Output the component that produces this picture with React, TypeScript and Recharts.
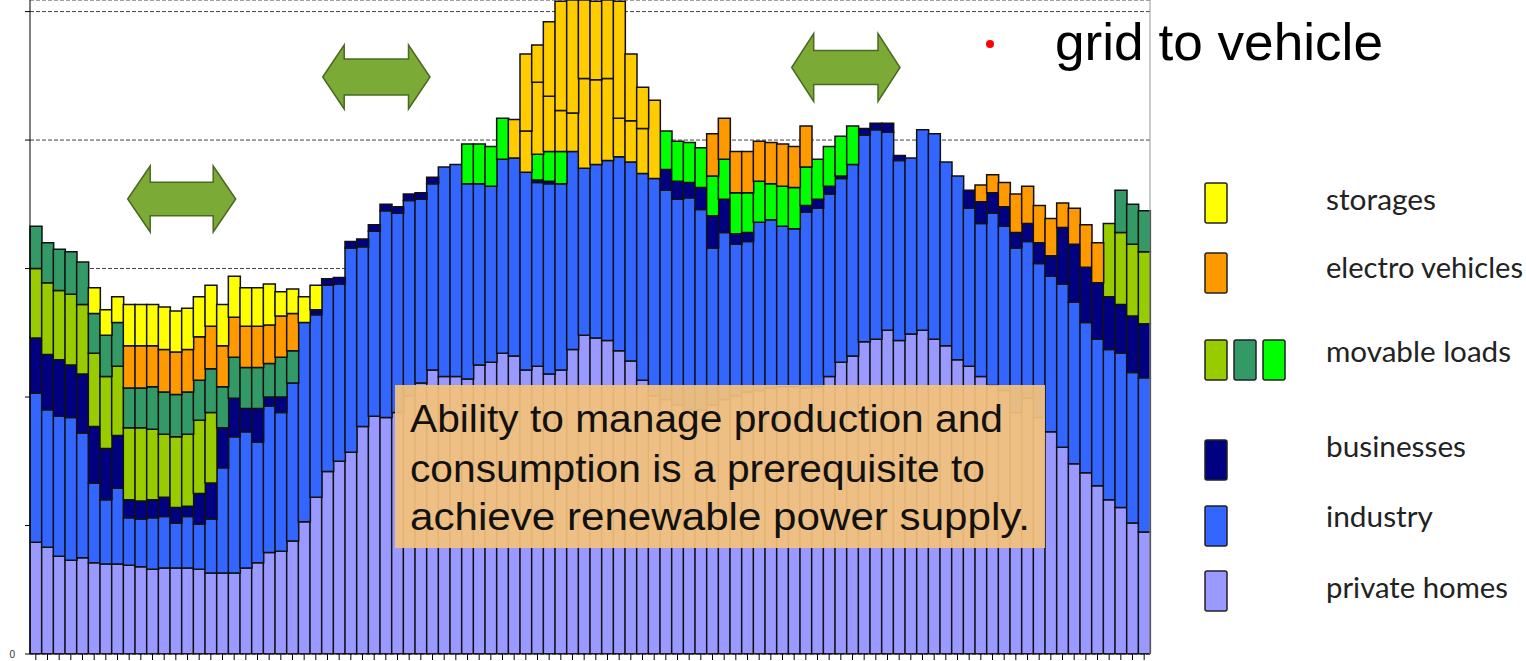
import { BarChart, Bar, XAxis, YAxis, CartesianGrid } from "recharts";

// quarter-hour slots of one day
const slots = Array.from(
  { length: 96 },
  (_, i) => `${String(Math.floor(i / 4)).padStart(2, "0")}:${String((i % 4) * 15).padStart(2, "0")}`
);

const privateHomes = [
  870, 830, 760, 730, 750, 710, 700, 700, 690, 680,
  660, 670, 670, 670, 660, 630, 630, 630, 670, 710,
  790, 800, 880, 1030, 1220, 1420, 1500, 1570, 1770, 1850,
  1840, 1880, 2010, 2110, 2210, 2160, 2160, 2140, 2250, 2270,
  2340, 2320, 2210, 2240, 2180, 2210, 2370, 2480, 2460, 2440,
  2360, 2280, 2130, 2010, 1980, 1940, 1900, 1900, 1940, 1980,
  2010, 2040, 2050, 2070, 2080, 2080, 2070, 2080, 2160, 2270,
  2320, 2430, 2450, 2520, 2440, 2490, 2520, 2450, 2400, 2290,
  2240, 2160, 2090, 2050, 1880, 1990, 1840, 1730, 1610, 1480,
  1410, 1310, 1200, 1140, 1020, 950,
];

const industry = [
  1160, 1070, 1090, 1110, 970, 620, 500, 590, 370, 370,
  400, 400, 350, 400, 350, 420, 820, 1060, 1060, 940,
  1140, 1080, 1230, 1550, 1420, 1450, 1380, 1590, 1400, 1440,
  1610, 1550, 1520, 1430, 1450, 1630, 1650, 1520, 1410, 1370,
  1510, 1540, 1540, 1430, 1480, 1450, 1540, 1300, 1350, 1400,
  1510, 1550, 1610, 1690, 1630, 1600, 1650, 1560, 1220, 1300,
  1180, 1170, 1310, 1310, 1250, 1230, 1370, 1390, 1420, 1430,
  1490, 1610, 1630, 1540, 1400, 1370, 1560, 1600, 1430, 1430,
  1230, 1190, 1340, 1280, 1280, 1220, 1200, 1210, 1270, 1260,
  1170, 1140, 1170, 1200, 1170, 1200,
];

const businesses = [
  430, 430, 440, 410, 460, 440, 400, 410, 140, 140,
  140, 150, 120, 80, 240, 280, 310, 300, 180, 260,
  70, 120, 0, 0, 40, 50, 50, 50, 60, 50,
  50, 50, 50, 50, 50, 0, 0, 0, 0, 0,
  0, 0, 0, 20, 20, 0, 0, 0, 0, 0,
  0, 0, 0, 0, 160, 140, 120, 170, 250, 260,
  80, 70, 0, 0, 0, 0, 50, 70, 60, 20,
  0, 50, 50, 70, 40, 0, 0, 0, 0, 0,
  140, 170, 160, 150, 120, 140, 160, 160, 440, 450,
  430, 440, 410, 380, 440, 420,
];

const movableLoadsA = [
  540, 560, 540, 550, 540, 570, 560, 540, 560, 570,
  550, 490, 550, 560, 570, 550, 0, 0, 0, 0,
  0, 0, 0, 0, 0, 0, 0, 0, 0, 0,
  0, 0, 0, 0, 0, 0, 0, 0, 0, 0,
  0, 0, 0, 0, 0, 0, 0, 0, 0, 0,
  0, 0, 0, 0, 0, 0, 0, 0, 0, 0,
  0, 0, 0, 0, 0, 0, 0, 0, 0, 0,
  0, 0, 0, 0, 0, 0, 0, 0, 0, 0,
  0, 0, 0, 0, 0, 0, 0, 0, 0, 0,
  0, 0, 570, 560, 560, 560,
];

const movableLoadsB = [
  330, 310, 320, 330, 330, 310, 320, 340, 310, 310,
  330, 330, 330, 330, 310, 340, 320, 320, 320, 320,
  260, 310, 250, 0, 0, 0, 0, 0, 0, 0,
  0, 0, 0, 0, 0, 0, 0, 0, 0, 0,
  0, 0, 0, 0, 0, 0, 0, 0, 0, 0,
  0, 0, 0, 0, 0, 0, 0, 0, 0, 0,
  0, 0, 0, 0, 0, 0, 0, 0, 0, 0,
  0, 0, 0, 0, 0, 0, 0, 0, 0, 0,
  0, 0, 0, 0, 0, 0, 0, 0, 0, 0,
  0, 0, 0, 330, 310, 320,
];

const movableLoadsC = [
  0, 0, 0, 0, 0, 0, 0, 0, 0, 0,
  0, 0, 0, 0, 0, 0, 0, 0, 0, 0,
  0, 0, 0, 0, 0, 0, 0, 0, 0, 0,
  0, 0, 0, 0, 0, 0, 0, 310, 310, 310,
  320, 0, 0, 200, 230, 250, 0, 0, 0, 0,
  0, 0, 0, 0, 300, 310, 310, 310, 310, 310,
  320, 310, 320, 280, 310, 320, 300, 310, 310, 310,
  300, 0, 0, 0, 0, 0, 0, 0, 0, 0,
  0, 0, 0, 0, 0, 0, 0, 0, 0, 0,
  0, 0, 0, 0, 0, 0,
];

const electroVehicles = [
  0, 0, 0, 0, 0, 0, 0, 0, 330, 330,
  320, 330, 330, 330, 340, 330, 320, 310, 320, 320,
  300, 320, 290, 0, 0, 0, 0, 0, 0, 0,
  0, 0, 0, 0, 0, 0, 0, 0, 0, 0,
  0, 0, 0, 0, 0, 0, 0, 0, 0, 0,
  0, 0, 0, 0, 0, 0, 0, 0, 330, 320,
  320, 320, 310, 320, 330, 320, 320, 0, 0, 0,
  0, 0, 0, 0, 0, 0, 0, 0, 0, 0,
  0, 130, 140, 190, 300, 290, 290, 290, 190, 280,
  330, 310, 0, 0, 0, 0,
];

const storages = [
  0, 0, 0, 0, 0, 200, 200, 200, 320, 320,
  320, 330, 320, 320, 310, 320, 320, 320, 300, 300,
  320, 190, 190, 200, 190, 0, 0, 0, 0, 0,
  0, 0, 0, 0, 0, 0, 0, 0, 0, 0,
  0, 0, 0, 0, 0, 0, 0, 0, 0, 0,
  0, 0, 0, 0, 0, 0, 0, 0, 0, 0,
  0, 0, 0, 0, 0, 0, 0, 0, 0, 0,
  0, 0, 0, 0, 0, 0, 0, 0, 0, 0,
  0, 0, 0, 0, 0, 0, 0, 0, 0, 0,
  0, 0, 0, 0, 0, 0,
];

// midday storage discharge, drawn as two stacked blocks
const storagesPeakLow = [
  0, 0, 0, 0, 0, 0, 0, 0, 0, 0,
  0, 0, 0, 0, 0, 0, 0, 0, 0, 0,
  0, 0, 0, 0, 0, 0, 0, 0, 0, 0,
  0, 0, 0, 0, 0, 0, 0, 0, 0, 0,
  0, 300, 320, 560, 430, 320, 300, 700, 660, 640,
  300, 320, 350, 610, 0, 0, 0, 0, 0, 0,
  0, 0, 0, 0, 0, 0, 0, 0, 0, 0,
  0, 0, 0, 0, 0, 0, 0, 0, 0, 0,
  0, 0, 0, 0, 0, 0, 0, 0, 0, 0,
  0, 0, 0, 0, 0, 0,
];

const storagesPeakHigh = [
  0, 0, 0, 0, 0, 0, 0, 0, 0, 0,
  0, 0, 0, 0, 0, 0, 0, 0, 0, 0,
  0, 0, 0, 0, 0, 0, 0, 0, 0, 0,
  0, 0, 0, 0, 0, 0, 0, 0, 0, 0,
  0, 0, 600, 290, 580, 850, 880, 610, 610, 610,
  910, 520, 320, 0, 0, 0, 0, 0, 0, 0,
  0, 0, 0, 0, 0, 0, 0, 0, 0, 0,
  0, 0, 0, 0, 0, 0, 0, 0, 0, 0,
  0, 0, 0, 0, 0, 0, 0, 0, 0, 0,
  0, 0, 0, 0, 0, 0,
];

const yTicks = [0, 1000, 2000, 3000, 4000, 5000];

const legendLabels = ["storages", "electro vehicles", "movable loads", "businesses", "industry", "private homes"];

const C = {
  homes: "#9999FF",
  industry: "#3366FF",
  business: "#000080",
  movA: "#99CC00",
  movB: "#339966",
  movC: "#00FF00",
  ev: "#FF9900",
  storage: "#FFFF00",
  storageGold: "#FFCC00",
};

const data = slots.map((slot, i) => ({
  slot,
  homes: privateHomes[i],
  industry: industry[i],
  business: businesses[i],
  movA: movableLoadsA[i],
  movB: movableLoadsB[i],
  movC: movableLoadsC[i],
  ev: electroVehicles[i],
  storage: storages[i],
  peakLow: storagesPeakLow[i],
  peakHigh: storagesPeakHigh[i],
}));

const series = [
  { key: "homes", color: C.homes },
  { key: "industry", color: C.industry },
  { key: "business", color: C.business },
  { key: "movA", color: C.movA },
  { key: "movB", color: C.movB },
  { key: "movC", color: C.movC },
  { key: "ev", color: C.ev },
  { key: "storage", color: C.storage },
  { key: "peakLow", color: C.storageGold },
  { key: "peakHigh", color: C.storageGold },
];

const arrowPath = (x0: number, x1: number, yc: number, hh: number, sh: number, hl: number) =>
  `M${x0},${yc} L${x0 + hl},${yc - hh} L${x0 + hl},${yc - sh} L${x1 - hl},${yc - sh} L${x1 - hl},${yc - hh} ` +
  `L${x1},${yc} L${x1 - hl},${yc + hh} L${x1 - hl},${yc + sh} L${x0 + hl},${yc + sh} L${x0 + hl},${yc + hh} Z`;

const Swatch = ({ x, y, color }: { x: number; y: number; color: string }) => (
  <rect x={x} y={y} width={22} height={40} rx={2} fill={color} stroke="#222" strokeWidth={1.5} />
);

export default function App() {
  const legendFont = { fontFamily: "Lato, 'Open Sans', sans-serif", fontSize: 29, fill: "#222" };
  const boxFont = { fontFamily: "'Liberation Sans', Arial, sans-serif", fontSize: 38, fill: "#111" };

  return (
    <div style={{ position: "relative", width: 1526, height: 661, fontFamily: "'Liberation Sans', Arial, sans-serif" }}>
      <style>{"body{margin:0}"}</style>
      <BarChart
        width={1526}
        height={661}
        data={data}
        margin={{ top: 0, right: 375, bottom: 0, left: 0 }}
        barCategoryGap={0}
        barGap={0}
      >
        <CartesianGrid vertical={false} stroke="#444" strokeDasharray="4 2" />
        <XAxis
          dataKey="slot"
          height={7}
          interval={0}
          tickSize={6}
          tickFormatter={() => ""}
          axisLine={{ stroke: "#000" }}
          tickLine={{ stroke: "#000" }}
        />
        <YAxis
          width={30}
          domain={[0, 5090]}
          allowDataOverflow
          ticks={yTicks}
          tickSize={5}
          tickMargin={10}
          tickFormatter={(v: number) => (v === 0 ? "0" : "")}
          tick={{ fontSize: 10, fill: "#333" }}
          axisLine={{ stroke: "#000" }}
          tickLine={{ stroke: "#000" }}
        />
        <YAxis
          yAxisId="frame"
          orientation="right"
          width={1}
          domain={[0, 5090]}
          tick={false}
          tickLine={false}
          axisLine={{ stroke: "#999" }}
        />
        {series.map((s) => (
          <Bar
            key={s.key}
            dataKey={s.key}
            stackId="load"
            fill={s.color}
            stroke="#111"
            strokeWidth={1.5}
            isAnimationActive={false}
          />
        ))}
      </BarChart>

      <svg width={1526} height={661} style={{ position: "absolute", left: 0, top: 0, pointerEvents: "none" }}>
        <g fill="#7BAA36" stroke="#4A6A22" strokeWidth={1.5}>
          <path d={arrowPath(127.7, 235.7, 199, 33, 16.7, 22.5)} />
          <path d={arrowPath(322.7, 430, 77, 32, 18, 21.5)} />
          <path d={arrowPath(791.7, 900, 67.5, 34, 17, 22)} />
        </g>

        <circle cx={990} cy={44} r={4} fill="#FF0000" />
        <text x={1055} y={60} fontSize={52} fill="#000" fontFamily="'Liberation Sans', Arial, sans-serif" textLength={328} lengthAdjust="spacingAndGlyphs">
          grid to vehicle
        </text>

        <rect x={395} y={385} width={650} height={163} fill="#F5C27A" fillOpacity={0.92} />
        <text x={410} y={432} {...boxFont} textLength={593} lengthAdjust="spacingAndGlyphs">
          Ability to manage production and
        </text>
        <text x={410} y={482} {...boxFont} textLength={575} lengthAdjust="spacingAndGlyphs">
          consumption is a prerequisite to
        </text>
        <text x={410} y={530} {...boxFont} textLength={620} lengthAdjust="spacingAndGlyphs">
          achieve renewable power supply.
        </text>

        <Swatch x={1205} y={183} color={C.storage} />
        <Swatch x={1205} y={253} color={C.ev} />
        <Swatch x={1205} y={340} color={C.movA} />
        <Swatch x={1234} y={340} color={C.movB} />
        <Swatch x={1263} y={340} color={C.movC} />
        <Swatch x={1205} y={440} color={C.business} />
        <Swatch x={1205} y={506} color={C.industry} />
        <Swatch x={1205} y={571} color={C.homes} />

        <text x={1326} y={210} {...legendFont} textLength={110} lengthAdjust="spacingAndGlyphs">{legendLabels[0]}</text>
        <text x={1326} y={278} {...legendFont} textLength={197} lengthAdjust="spacingAndGlyphs">{legendLabels[1]}</text>
        <text x={1326} y={362} {...legendFont} textLength={185} lengthAdjust="spacingAndGlyphs">{legendLabels[2]}</text>
        <text x={1326} y={457} {...legendFont} textLength={140} lengthAdjust="spacingAndGlyphs">{legendLabels[3]}</text>
        <text x={1326} y={527} {...legendFont} textLength={107} lengthAdjust="spacingAndGlyphs">{legendLabels[4]}</text>
        <text x={1326} y={598} {...legendFont} textLength={182} lengthAdjust="spacingAndGlyphs">{legendLabels[5]}</text>
      </svg>
    </div>
  );
}
